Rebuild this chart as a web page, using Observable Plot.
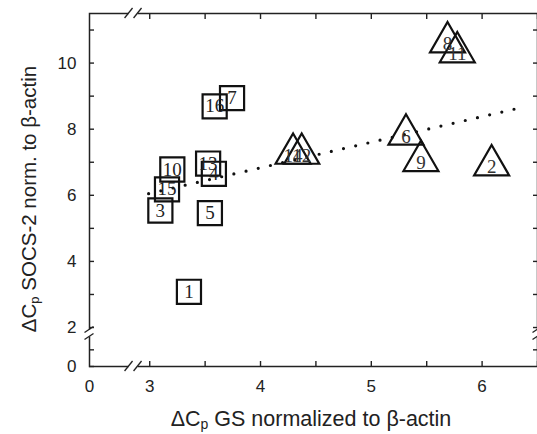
<!DOCTYPE html>
<html><head><meta charset="utf-8">
<script src="https://cdn.jsdelivr.net/npm/d3@7"></script>
<script src="https://cdn.jsdelivr.net/npm/@observablehq/plot@0.6"></script>
<style>body{margin:0;background:#fff}</style>
</head><body><div id="chart"></div>
<script>
// Sample groups: squares and triangles (labels, ΔCp GS, ΔCp SOCS-2)
const squareIds = ["1","3","5","15","10","13","4","16","7"];
const squareX = [3.354,3.096,3.543,3.156,3.204,3.527,3.579,3.586,3.743];
const squareY = [3.08,5.54,5.46,6.18,6.78,6.96,6.65,8.69,8.94];
const triangleIds = ["2","9","6","8","11","14","12"];
const triangleX = [6.086,5.448,5.313,5.688,5.776,4.294,4.372];
const triangleY = [6.91,7.04,7.84,10.63,10.33,7.26,7.26];
// Regression line end points
const fitX = [2.99, 6.36];
const fitY = [6.05, 8.66];
// Ticks
const xTickLabels = [0,3,4,5,6];
const xTicksAll = [3,3.5,4,4.5,5,5.5,6,6.5];
const yTickLabels = [0,2,4,6,8,10];
const yTicksAll = [0,1,2,3,4,5,6,7,8,9,10,11];
// Axis break positions (in data units)
const xBreak = 2.854;
const yBreak = 1.8;

const squares = squareIds.map((id,i)=>({id, x:squareX[i], y:squareY[i]}));
const triangles = triangleIds.map((id,i)=>({id, x:triangleX[i], y:triangleY[i]}));
const fit = fitX.map((x,i)=>({x, y:fitY[i]}));

const W = 537, H = 434;
const mL = 89, mR = 0, mT = 13, mB = 68;
const ink = "#222";

const plot = Plot.plot({
  width: W, height: H,
  marginLeft: mL, marginRight: mR, marginTop: mT, marginBottom: mB,
  style: {fontFamily: "'Liberation Sans', Arial, sans-serif", fontSize: "17px", color: ink, background: "#fff"},
  x: {type: "linear", domain: [0, xBreak, 6.5], range: [mL, 133.05, W - mR]},
  y: {type: "linear", domain: [0, 1.5, 1.91, 11.5], range: [H - mB, 341, 330, mT]},
  marks: [
    Plot.frame({stroke: ink, strokeWidth: 1.5}),
    Plot.axisX(xTicksAll, {anchor: "bottom", tickSize: -5, tickFormat: () => "", label: null, stroke: ink, strokeWidth: 1.4}),
    Plot.axisX(xTicksAll, {anchor: "top", tickSize: -5, tickFormat: () => "", label: null, stroke: ink, strokeWidth: 1.4}),
    Plot.axisX(xTickLabels, {anchor: "bottom", tickSize: 0, tickPadding: 13, label: null, fill: ink, fontSize: 17}),
    Plot.axisY(yTicksAll, {anchor: "left", tickSize: -5, tickFormat: () => "", label: null, stroke: ink, strokeWidth: 1.4}),
    Plot.axisY(yTicksAll.filter(d => d > 0), {anchor: "right", tickSize: -5, tickFormat: () => "", label: null, stroke: ink, strokeWidth: 1.4}),
    Plot.axisY(yTickLabels, {anchor: "left", tickSize: 0, tickPadding: 13, label: null, fill: ink, fontSize: 17}),
    Plot.line(fit, {x: "x", y: "y", stroke: "#111", strokeWidth: 3.2, strokeDasharray: "0 12.5", strokeLinecap: "round"}),
    Plot.dot(squares, {x: "x", y: "y", symbol: "square", r: 13.6, stroke: "#111", strokeWidth: 2.2, fill: "none"}),
    Plot.dot(triangles, {x: "x", y: "y", symbol: "triangle", r: 13, stroke: "#111", strokeWidth: 2.2, fill: "none", strokeLinejoin: "miter"}),
    Plot.text(squares, {x: "x", y: "y", text: "id", fontFamily: "'Liberation Serif', 'Times New Roman', serif", fontSize: 19, fill: "#222"}),
    Plot.text(triangles, {x: "x", y: "y", text: "id", dy: 2, fontFamily: "'Liberation Serif', 'Times New Roman', serif", fontSize: 19, fill: "#333"})
  ]
});

document.getElementById("chart").appendChild(plot);

// Axis break decorations and axis titles
const svg = d3.select(plot);
const sx = plot.scale("x"), sy = plot.scale("y");
const bx = sx.apply(xBreak), by = sy.apply(yBreak);
const x0 = sx.apply(0), x1 = sx.apply(6.5), y0 = sy.apply(0), y1 = sy.apply(11.5);
const g = svg.append("g");
// horizontal axes (bottom & top)
for (const yy of [y0, y1]) {
  g.append("rect").attr("x", bx - 4.5).attr("y", yy - 2.5).attr("width", 9).attr("height", 5).attr("fill", "#fff");
  for (const c of [bx - 4.5, bx + 4.5]) {
    g.append("line").attr("x1", c - 4).attr("y1", yy + 5).attr("x2", c + 4).attr("y2", yy - 5)
      .attr("stroke", ink).attr("stroke-width", 1.3);
  }
}
// vertical axes (left & right)
for (const xx of [x0, x1]) {
  g.append("rect").attr("x", xx - 2.5).attr("y", by - 3.5).attr("width", 5).attr("height", 7).attr("fill", "#fff");
  for (const c of [by - 3.5, by + 3.5]) {
    g.append("line").attr("x1", xx - 4.5).attr("y1", c + 3).attr("x2", xx + 4.5).attr("y2", c - 3)
      .attr("stroke", ink).attr("stroke-width", 1.3);
  }
}
// Axis titles
function title(sel, rest, sub) {
  sel.append("tspan").text("ΔC");
  sel.append("tspan").attr("font-size", sub).attr("dy", 3).text("p");
  sel.append("tspan").attr("dy", -3).text(rest);
}
const tx = svg.append("text").attr("x", 311).attr("y", 426).attr("text-anchor", "middle")
  .attr("font-size", 21.5).attr("fill", ink).attr("font-family", "'Liberation Sans', Arial, sans-serif");
title(tx, " GS normalized to β-actin", 14);
const ty = svg.append("text").attr("transform", "translate(36,199) rotate(-90)").attr("text-anchor", "middle")
  .attr("font-size", 20.5).attr("fill", ink).attr("font-family", "'Liberation Sans', Arial, sans-serif");
title(ty, " SOCS-2 norm. to β-actin", 13);
</script>
</body></html>
